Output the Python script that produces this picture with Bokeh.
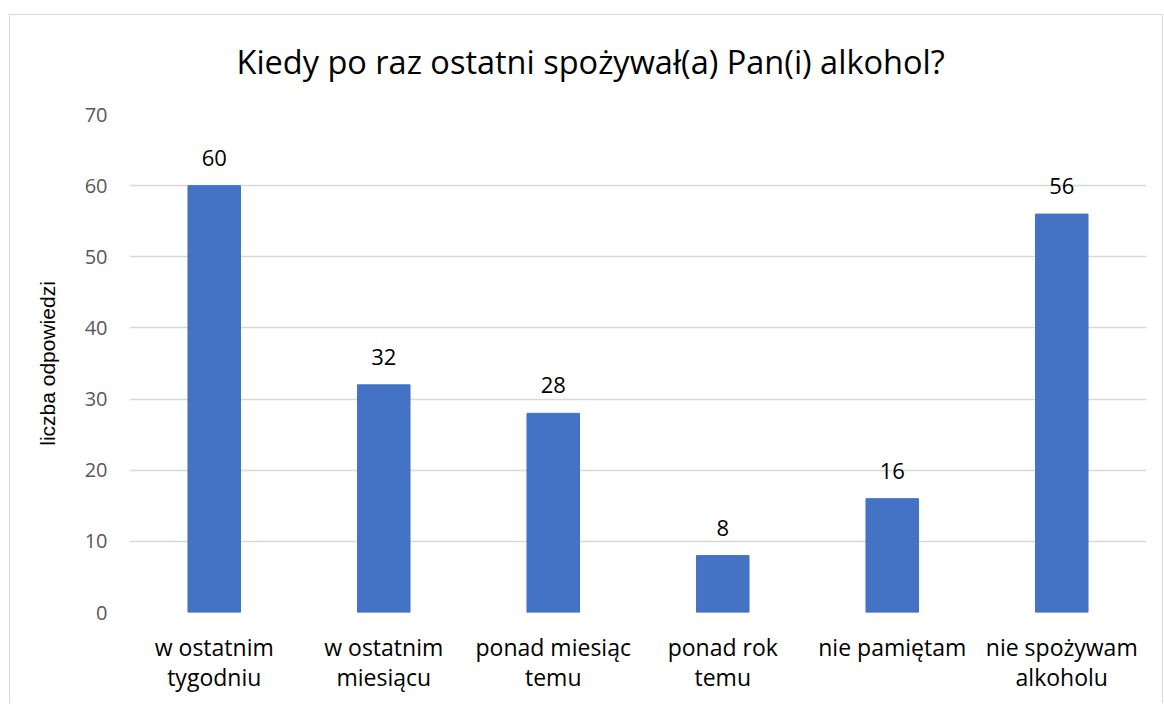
from bokeh.plotting import figure
from bokeh.models import Range1d, ColumnDataSource, FactorRange
from bokeh.core.properties import value
from bokeh.embed import file_html
from bokeh.resources import INLINE

categories = ["w ostatnim\ntygodniu", "w ostatnim\nmiesiącu", "ponad miesiąc\ntemu",
              "ponad rok\ntemu", "nie pamiętam", "nie spożywam\nalkoholu"]
counts = [60, 32, 28, 8, 16, 56]
labels = [str(v) for v in counts]
y_ticks = [0, 10, 20, 30, 40, 50, 60, 70]

FONT = "Open Sans"
src = ColumnDataSource(dict(cat=categories, val=counts, lab=labels))

p = figure(x_range=FactorRange(*categories), y_range=Range1d(0, 70),
           width=1154, height=697, output_backend="svg", toolbar_location=None,
           min_border_left=120, min_border_right=17, min_border_top=107, min_border_bottom=91)
p.margin = (6, 0, 0, 9)
LINE = "linear-gradient(#d9d9d9, #d9d9d9)"
p.styles = {"background": (f"{LINE} left 0 top 8px / 100% 1px no-repeat, "
                           f"{LINE} left 0 top 8px / 1px 100% no-repeat, "
                           f"{LINE} right 0 top 8px / 1px 100% no-repeat")}
p.border_fill_alpha = 0
p.background_fill_color = "#ffffff"

p.title.text = "Kiedy po raz ostatni spożywał(a) Pan(i) alkohol?"
p.title.text_font = FONT
p.title.text_font_size = "32.5px"
p.title.text_font_style = "normal"
p.title.text_color = "#000000"
p.title.align = "left"
p.title.offset = 107
p.title.standoff = 61

p.vbar(x="cat", top="val", width=0.31, source=src, color="#4472C4")
p.text(x="cat", y="val", text="lab", source=src, text_align="center", text_baseline="alphabetic",
       y_offset=-28, text_font=value(FONT), text_font_size="22px", text_color="#000000")

p.outline_line_color = None
p.xgrid.grid_line_color = None
p.ygrid.grid_line_color = "#d9d9d9"
p.ygrid.grid_line_width = 1.3
p.yaxis.ticker = y_ticks
p.yaxis.axis_line_color = None
p.yaxis.major_tick_line_color = None
p.yaxis.minor_tick_line_color = None
p.yaxis.major_label_text_font = FONT
p.yaxis.major_label_text_font_size = "20px"
p.yaxis.major_label_text_color = "#595959"
p.yaxis.major_label_standoff = 16
p.yaxis.axis_label = "liczba odpowiedzi"
p.yaxis.axis_label_text_font = "Liberation Sans"
p.yaxis.axis_label_text_font_size = "21px"
p.yaxis.axis_label_text_font_style = "normal"
p.yaxis.axis_label_text_color = "#000000"
p.yaxis.axis_label_standoff = 23

p.xaxis.axis_line_color = None
p.xaxis.major_tick_line_color = None
p.xaxis.major_label_text_font = FONT
p.xaxis.major_label_text_font_size = "23px"
p.xaxis.major_label_text_line_height = 0.96
p.xaxis.major_label_text_color = "#000000"
p.xaxis.major_label_standoff = 12

open("out.html", "w").write(file_html(p, INLINE))
